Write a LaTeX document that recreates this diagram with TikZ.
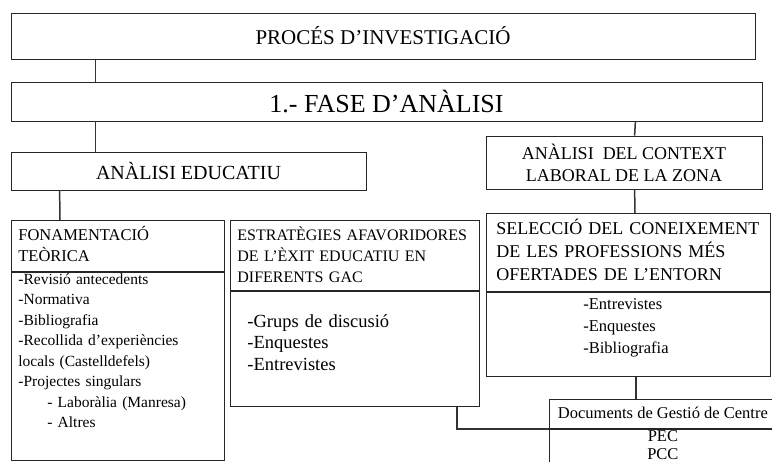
\documentclass[tikz,border=0pt]{standalone}
\usepackage{fontspec}
\setmainfont{Liberation Serif}
\usetikzlibrary{shadows}

\begin{document}
\begin{tikzpicture}[x=1pt, y=-1pt,
    box/.style={draw=black!85, line width=0.8pt, fill=white,
        drop shadow={shadow xshift=0.5pt, shadow yshift=-0.9pt, fill=black!65}},
    part/.style={box, anchor=north west, inner xsep=7pt, inner ysep=0pt, align=left},
    link/.style={draw=black!80, line width=1.5pt}]
    \useasboundingbox (0,0) rectangle (772,462);
    \clip (0,0) rectangle (772,462);

    % upper levels
    \node [box, minimum width=744, minimum height=46] (proces) at (383,36)
        {\fontsize{21}{25}\selectfont PROCÉS D’INVESTIGACIÓ};
    \node [box, minimum width=751, minimum height=39] (fase) at (386.5,101.5)
        {\fontsize{26}{30}\selectfont 1.- FASE D’ANÀLISI};
    \node [box, minimum width=355, minimum height=38] (educ) at (188.5,171)
        {\fontsize{20}{24}\selectfont ANÀLISI EDUCATIU};
    \node [box, minimum width=276, minimum height=53, align=center,
        font=\fontsize{18}{22}\selectfont] (context) at (624,162.5)
        {ANÀLISI\ \ DEL CONTEXT\\LABORAL DE LA ZONA};

    % fonamentacio
    \node [part, text width=199, text height=20.5, text depth=30.5,
        font=\fontsize{16.5}{21}\selectfont] (fon_h) at (11,220)
        {FONAMENTACIÓ\\TEÒRICA};
    \node [part, text width=199, text height=12, text depth=176,
        font=\fontsize{15.5}{20.5}\selectfont] (fon_b) at (fon_h.south west)
        {-Revisió antecedents\\-Normativa\\-Bibliografia\\
         -Recollida d’experiències\\locals (Castelldefels)\\-Projectes singulars\\
         \hspace*{29pt}- Laboràlia (Manresa)\\\hspace*{29pt}- Altres};

    % estrategies
    \node [part, text width=235, text height=20, text depth=50,
        font=\fontsize{16}{21}\selectfont] (est_h) at (230,220)
        {ESTRATÈGIES AFAVORIDORES\\DE L’ÈXIT EDUCATIU EN\\DIFERENTS GAC};
    \node [part, inner xsep=17pt, text width=215, text height=36, text depth=79,
        font=\fontsize{18.5}{21.5}\selectfont] (est_b) at (est_h.south west)
        {-Grups de discusió\\-Enquestes\\-Entrevistes};

    % seleccio
    \node [part, inner xsep=10pt, text width=264, text height=21, text depth=57,
        font=\fontsize{18}{23}\selectfont] (sel_h) at (486,213)
        {SELECCIÓ DEL CONEIXEMENT\\DE LES PROFESSIONS MÉS\\OFERTADES DE L’ENTORN};
    \node [part, inner xsep=0pt, minimum width=284, text width=90, text height=17,
        text depth=67, font=\fontsize{16.5}{22}\selectfont] (sel_b) at (sel_h.south west)
        {-Entrevistes\\-Enquestes\\-Bibliografia};

    % documents
    \node [part, minimum width=227, text height=19.5, text depth=9.5,
        font=\fontsize{16.5}{20}\selectfont] (doc_h) at (549,399)
        {Documents de Gestió de Centre};
    \node [part, text width=213, text height=12.5, text depth=39.5, align=center,
        font=\fontsize{16.5}{18}\selectfont] (doc_b) at (doc_h.south west)
        {PEC\\PCC};

    % connectors
    \draw [link] ([xshift=85pt]proces.south west) -- ([xshift=85pt]fase.north west);
    \draw [link] ([xshift=85pt]fase.south west) -- ([xshift=85pt]educ.north west);
    \draw [link] ([xshift=-127pt]fase.south east) -- ([xshift=149pt]context.north west);
    \draw [link] ([xshift=49pt]educ.south west) -- ([xshift=49pt]fon_h.north west);
    \draw [link] ([xshift=149pt]context.south west) -- ([xshift=149pt]sel_h.north west);
    \draw [link] ([xshift=150pt]sel_b.south west) -- ([xshift=87pt]doc_h.north west);
    \draw [link] ([xshift=227pt]est_b.south west) |- (doc_b.north west);
\end{tikzpicture}
\end{document}
